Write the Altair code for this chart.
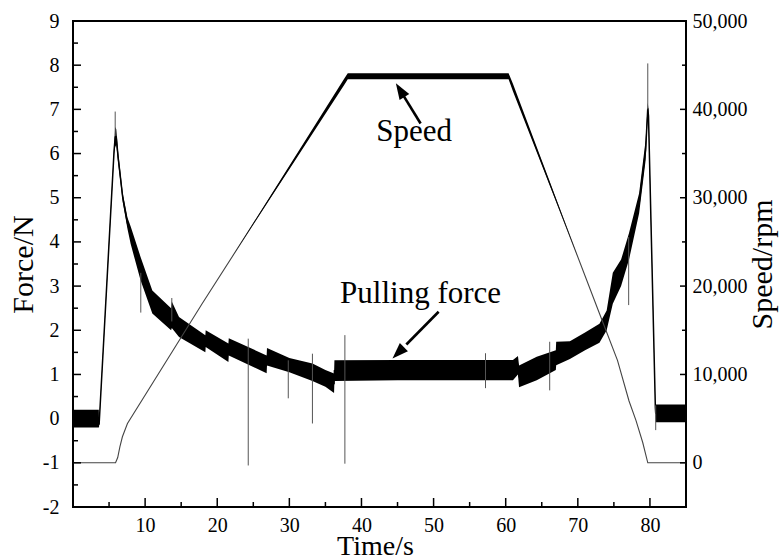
import altair as alt
import pandas as pd

# ---- measured series -------------------------------------------------------
# Pulling force: envelope of the noisy trace (lower / upper edge), N
force_t = [0, 3.58, 3.62, 5.7, 5.85, 6.0, 6.25, 6.9, 7.55, 8.0, 9.37, 11.0, 13.6, 13.7,
           14.7, 18.35, 18.4, 21.55, 21.6, 26.85, 26.9, 30.0, 33.2, 35.0, 36.2, 36.25,
           45.0, 55.0, 61.0, 61.7, 61.85, 64.3, 66.95, 67.0, 68.9, 71.0, 73.0, 74.0,
           74.85, 76.0, 77.1, 78.5, 79.4, 79.7, 79.8, 80.75, 80.8, 85.0]
force_lo = [-0.2, -0.2, -0.18, 6.0, 6.15, 6.2, 5.8, 4.9, 4.3, 3.95, 3.13, 2.38, 2.0, 2.05,
            1.85, 1.5, 1.62, 1.28, 1.43, 1.03, 1.2, 1.05, 0.85, 0.72, 0.58, 0.85,
            0.87, 0.87, 0.87, 1.0, 0.71, 0.87, 1.1, 1.21, 1.35, 1.55, 1.72, 2.0,
            2.6, 3.0, 3.6, 4.65, 5.85, 6.9, 6.7, 0.2, -0.08, -0.08]
force_hi = [0.2, 0.2, -0.1, 6.15, 6.6, 6.55, 6.05, 5.1, 4.55, 4.35, 3.66, 2.9, 2.5, 2.65,
            2.3, 1.89, 2.0, 1.7, 1.82, 1.43, 1.6, 1.37, 1.25, 1.1, 1.02, 1.32,
            1.33, 1.33, 1.33, 1.42, 1.2, 1.4, 1.55, 1.74, 1.75, 1.95, 2.15, 2.45,
            3.3, 3.6, 4.2, 5.1, 6.3, 7.15, 7.0, 0.3, 0.32, 0.32]

# Isolated spikes in the force signal
spike_t = [5.85, 9.4, 13.7, 24.3, 29.85, 33.2, 37.7, 57.2, 66.1, 77.05, 79.7, 80.8]
spike_lo = [6.4, 2.4, 2.2, -1.06, 0.46, -0.11, -1.02, 0.69, 0.64, 2.57, 7.0, -0.26]
spike_hi = [6.95, 3.3, 2.73, 1.81, 1.32, 1.47, 1.89, 1.48, 1.74, 4.11, 8.04, 0.3]

# Spindle speed, rpm
speed_t = [0, 5.9, 6.2, 6.5, 6.85, 7.55, 17.9, 38.1, 60.4, 73.0, 75.5, 77.1, 78.06,
           79.0, 79.7, 85.0]
speed_rpm = [0, 0, 600, 1800, 2950, 4450, 18000, 43750, 43750, 16900, 11600, 7000,
             4800, 2300, 0, 0]

# Speed trace thickness near the plateau (noise band), rpm
speed_band_t = [22.0, 30.0, 37.6, 38.1, 60.4, 61.0, 66.0, 70.0]
speed_band_lo = [23230, 33230, 42770, 43400, 43400, 42050, 31600, 23290]
speed_band_hi = [23230, 33630, 43470, 44100, 44100, 42900, 32050, 23290]

# Axis ticks
time_ticks = [10, 20, 30, 40, 50, 60, 70, 80]
time_minor = [5, 15, 25, 35, 45, 55, 65, 75]
force_ticks = [-2, -1, 0, 1, 2, 3, 4, 5, 6, 7, 8, 9]
force_minor = [-1.5, -0.5, 0.5, 1.5, 2.5, 3.5, 4.5, 5.5, 6.5, 7.5, 8.5]
speed_ticks = [0, 10000, 20000, 30000, 40000, 50000]
speed_minor = [5000, 15000, 25000, 35000, 45000]

# Annotations: label text, label anchor, arrow tail and tip (time, force)
note_text = ["Speed", "Pulling force"]
note_t = [47.3, 48.2]
note_f = [6.28, 2.61]
arrow_t0 = [48.2, 50.7]
arrow_f0 = [6.68, 2.42]
arrow_t1 = [44.77, 44.3]
arrow_f1 = [7.59, 1.36]
arrow_angle = [328, 225]

# ---- layout ---------------------------------------------------------------
W, H = 613, 486
FONT = "Liberation Serif"

xs = alt.Scale(domain=[0, 85], nice=False, zero=False)
fs = alt.Scale(domain=[-2, 9], nice=False, zero=False)
ss = alt.Scale(domain=[-5000, 50000], nice=False, zero=False)

force_df = pd.DataFrame({"t": force_t, "lo": force_lo, "hi": force_hi})
force_df["mid"] = (force_df["lo"] + force_df["hi"]) / 2
spike_df = pd.DataFrame({"t": spike_t, "lo": spike_lo, "hi": spike_hi})
speed_df = pd.DataFrame({"t": speed_t, "rpm": speed_rpm})
sband_df = pd.DataFrame({"t": speed_band_t, "lo": speed_band_lo, "hi": speed_band_hi})

note_df = pd.DataFrame({"text": note_text, "t": note_t, "f": note_f})
arrow_df = pd.DataFrame({"t0": arrow_t0, "f0": arrow_f0, "t1": arrow_t1,
                         "f1": arrow_f1, "ang": arrow_angle})
# shaft stops a little short of the tip so the head stays pointed
arrow_df["ts"] = arrow_df["t1"] + 0.3 * (arrow_df["t0"] - arrow_df["t1"])
arrow_df["fs"] = arrow_df["f1"] + 0.3 * (arrow_df["f0"] - arrow_df["f1"])

common = dict(ticks=False, domain=False, grid=False, labelFont=FONT, labelFontSize=20,
              labelColor="black", titleFont=FONT, titleFontWeight="normal",
              titleColor="black")
# one shared x axis definition, repeated on every layer so the layers merge cleanly
x_axis = alt.Axis(values=time_ticks, title="Time/s", labelPadding=8, titlePadding=-3,
                  titleFontSize=28, titleX=302, **common)
f_axis = alt.Axis(values=force_ticks, title="Force/N", labelPadding=14,
                  titlePadding=4, titleFontSize=30, labelExpr="'' + datum.value",
                  **common)
s_axis = alt.Axis(values=speed_ticks, format=",d", orient="right", title="Speed/rpm",
                  labelPadding=6, titleAngle=270, titlePadding=30, titleFontSize=30,
                  **common)

X = lambda f: alt.X(f, scale=xs, axis=x_axis)
YF = lambda f, ax=None: alt.Y(f, scale=fs, axis=ax)
YS = lambda f, ax=None: alt.Y(f, scale=ss, axis=ax)

# ---- force traces -----------------------------------------------------------
band = alt.Chart(force_df).mark_area(color="black").encode(
    x=X("t:Q"), y=YF("lo:Q", f_axis), y2="hi:Q")
center = alt.Chart(force_df).mark_line(color="black", strokeWidth=1.5).encode(
    x=X("t:Q"), y=YF("mid:Q"))
spikes = alt.Chart(spike_df).mark_rule(color="#555", strokeWidth=1).encode(
    x=X("t:Q"), y=YF("lo:Q"), y2="hi:Q")

# ---- speed traces -----------------------------------------------------------
speed_line = alt.Chart(speed_df).mark_line(color="#444", strokeWidth=1.1).encode(
    x=X("t:Q"), y=YS("rpm:Q", s_axis))
speed_band = alt.Chart(sband_df).mark_area(color="black").encode(
    x=X("t:Q"), y=YS("lo:Q"), y2="hi:Q")

# ---- inward tick marks --------------------------------------------------------
def x_ticks(values, length):
    return alt.Chart(pd.DataFrame({"t": values})).mark_rule(
        color="black", strokeWidth=1.5).encode(
        x=X("t:Q"), y=alt.value(H), y2=alt.value(H - length))

def y_ticks(values, ych, x0, x1):
    return alt.Chart(pd.DataFrame({"v": values})).mark_rule(
        color="black", strokeWidth=1.5).encode(
        y=ych("v:Q"), x=alt.value(x0), x2=alt.value(x1))

# ---- annotations --------------------------------------------------------------
notes = alt.Chart(note_df).mark_text(font=FONT, fontSize=31, color="black",
                                     align="center", baseline="alphabetic").encode(
    x=X("t:Q"), y=YF("f:Q"), text="text:N")
shafts = alt.Chart(arrow_df).mark_rule(color="black", strokeWidth=2.6).encode(
    x=X("t0:Q"), x2="ts:Q", y=YF("f0:Q"), y2="fs:Q")
heads = alt.Chart(arrow_df).mark_point(
    shape="M0,0L0.6,1.7L-0.6,1.7Z", filled=True, color="black", opacity=1,
    size=360, strokeWidth=0,
).encode(x=X("t1:Q"), y=YF("f1:Q"), angle=alt.Angle("ang:Q", scale=None))

chart = alt.layer(
    band, center, spikes, speed_line, speed_band,
    x_ticks(time_ticks, 9), x_ticks(time_minor, 5),
    y_ticks(force_ticks, YF, 0, 8), y_ticks(force_minor, YF, 0, 5),
    y_ticks(speed_ticks, YS, W, W - 6), y_ticks(speed_minor, YS, W, W - 4),
    notes, shafts, heads,
).resolve_scale(y="independent").properties(
    width=W, height=H,
    padding={"left": 73, "top": 21, "right": 98, "bottom": 53},
    autosize=alt.AutoSizeParams(type="none"),
    background="white",
).configure_view(stroke="black", strokeWidth=2)

chart.save("out.html", embed_options={"renderer": "svg", "actions": False})
